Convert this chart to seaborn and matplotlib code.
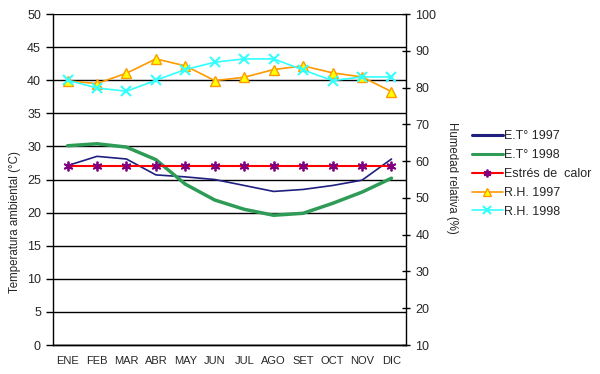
import numpy as np
import pandas as pd
import matplotlib
matplotlib.use("Agg")
import matplotlib.pyplot as plt
import seaborn as sns

# Datos
meses = ["ENE", "FEB", "MAR", "ABR", "MAY", "JUN", "JUL", "AGO", "SET", "OCT", "NOV", "DIC"]
et_1997 = [27.1, 28.5, 28.1, 25.7, 25.4, 25.0, 24.1, 23.2, 23.5, 24.1, 24.9, 28.1]
et_1998 = [30.1, 30.4, 29.9, 28.0, 24.3, 21.9, 20.5, 19.6, 19.9, 21.4, 23.1, 25.2]
estres = [27, 27, 27, 27, 27, 27, 27, 27, 27, 27, 27, 27]
rh_1997 = [81.8, 81.1, 83.9, 87.8, 85.9, 81.9, 82.8, 84.9, 85.9, 84.0, 82.9, 78.9]
rh_1998 = [82.0, 79.9, 79.0, 82.0, 84.9, 86.9, 87.8, 87.8, 84.8, 81.9, 82.9, 82.9]

df = pd.DataFrame({"pos": np.arange(len(meses)), "mes": meses,
                   "et97": et_1997, "et98": et_1998, "estres": estres,
                   "rh97": rh_1997, "rh98": rh_1998})

sns.set_style("white")
plt.rcParams['font.family'] = ['Liberation Sans', 'DejaVu Sans']

fig = plt.figure(figsize=(6, 3.74), dpi=100)
ax = fig.add_axes([0.088, 0.0775, 0.589, 0.885])
ax2 = ax.twinx()

# Eje izquierdo: temperaturas
sns.lineplot(data=df, x="pos", y="et97", ax=ax, color="#1f1f80", lw=1.2, label="E.T° 1997", legend=False)
sns.lineplot(data=df, x="pos", y="et98", ax=ax, color="#2e9b57", lw=2.5, label="E.T° 1998", legend=False)
sns.lineplot(data=df, x="pos", y="estres", ax=ax, color="#ff0000", lw=1.5, marker=(6, 2, 0),
             markersize=7, markeredgecolor="#800080", markeredgewidth=1.3,
             label="Estrés de  calor", legend=False)

# Eje derecho: humedad relativa
sns.lineplot(data=df, x="pos", y="rh97", ax=ax2, color="#ff9900", lw=1.2, marker="^",
             markersize=7, markerfacecolor="#ffff00", markeredgecolor="#ff9900",
             markeredgewidth=1, label="R.H. 1997", legend=False)
sns.lineplot(data=df, x="pos", y="rh98", ax=ax2, color="#33ffff", lw=1.2, marker="x",
             markersize=7, markeredgecolor="#33ffff", markeredgewidth=1.5,
             label="R.H. 1998", legend=False)

ax.set_ylim(0, 50)
ax.set_yticks(range(0, 51, 5))
ax.set_xlim(-0.5, 11.5)
ax.set_xticks(np.arange(-0.5, 12, 1))
ax.set_xticklabels([])
ax.set_xticks(range(12), minor=True)
ax.set_xticklabels(meses, minor=True)
ax.tick_params(axis="x", which="major", length=5, width=1, direction="out", color="black")
ax.tick_params(axis="x", which="minor", length=0, labelsize=8, pad=8)
ax.tick_params(axis="y", length=5, width=1, direction="out", color="black", labelsize=9)
ax.grid(axis="y", color="black", lw=1)
ax.set_xlabel("")
ax.set_ylabel("Temperatura ambiental (°C)", fontsize=8.3)
ax.yaxis.set_label_coords(-0.09, 0.37)

ax2.set_ylim(10, 100)
ax2.set_yticks(range(10, 101, 10))
ax2.tick_params(axis="y", length=6, width=1, direction="inout", color="black", labelsize=9)
ax2.set_ylabel("Humedad relativa (%)", fontsize=8.3, rotation=-90, va="center")
ax2.yaxis.set_label_coords(1.13, 0.505)
ax2.set_xlabel("")

for a in (ax, ax2):
    a.spines["top"].set_visible(False)
    for s in ("left", "right", "bottom"):
        a.spines[s].set_color("black")
        a.spines[s].set_linewidth(1)
ax.spines["right"].set_visible(False)
ax2.spines["left"].set_visible(False)

h1, l1 = ax.get_legend_handles_labels()
h2, l2 = ax2.get_legend_handles_labels()
leg = fig.legend(h1 + h2, l1 + l2, loc="upper left", bbox_to_anchor=(0.778, 0.665),
                 frameon=False, fontsize=9.0, handlelength=2.5, handletextpad=0.1,
                 labelspacing=0.55, borderaxespad=0, markerscale=0.8)
for ln in leg.get_lines()[:2]:
    ln.set_linewidth(2.2)

fig.savefig("out.png", dpi=100)
